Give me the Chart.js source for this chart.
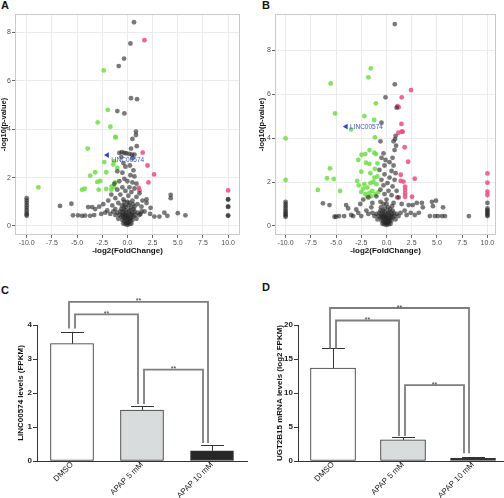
<!DOCTYPE html>
<html><head><meta charset="utf-8">
<script src="https://cdn.jsdelivr.net/npm/chart.js@4.4.1/dist/chart.umd.min.js"></script>
<style>
html,body{margin:0;padding:0;background:#fff;width:504px;height:498px;overflow:hidden;position:relative;font-family:"Liberation Sans",Arial,sans-serif;}
canvas{position:absolute;}
.lab{position:absolute;font-weight:bold;font-size:11px;line-height:11px;color:#111;font-family:"Liberation Sans",Arial,sans-serif;}
</style></head><body>
<div class="lab" style="left:1px;top:0px">A</div>
<div class="lab" style="left:262px;top:0px">B</div>
<div class="lab" style="left:1px;top:285px">C</div>
<div class="lab" style="left:262px;top:282px">D</div>
<canvas id="cC" width="252" height="248" style="left:0;top:250px"></canvas>
<canvas id="cD" width="262" height="248" style="left:252px;top:250px"></canvas>
<canvas id="cA" width="252" height="258" style="left:0;top:0"></canvas>
<canvas id="cB" width="252" height="258" style="left:252px;top:0"></canvas>
<script>
// ---------- DATA ----------
const volcanoXTicks = [-10, -7.5, -5, -2.5, 0, 2.5, 5, 7.5, 10];
const volcanoYTicks = [0, 2, 4, 6, 8];
const markerName = 'LINC00574';

const grayA = [
 [0.66,8.42],[0.3,7.54],[-0.33,6.92],[-0.86,6.61],[0.36,5.28],[0.96,5.24],[-1.0,4.75],[-0.3,4.65],
 [0.85,3.9],[0.85,3.76],[0.5,3.6],[0.93,3.3],[0.36,3.2],[-0.8,3.02],[-0.55,3.05],[-0.3,3.02],[-0.1,3.0],
 [0.2,2.98],[0.45,2.95],[0.7,2.95],[0.5,2.8],[-0.6,2.85],[-1.0,2.26],[-0.4,2.6],[-0.2,2.45],[0.25,2.5],
 [0.6,2.3],[-0.5,2.2],[0.3,2.1],[0.7,2.05],[-0.3,1.95],[0.0,1.85],[-0.8,1.85],[0.5,1.8],[0.9,1.75],
 [-1.3,1.75],[0.2,1.6],[-0.5,1.6],[-1.0,1.5],[0.7,1.55],[-0.2,1.45],[0.4,1.4],[1.2,1.35],[-0.7,1.3],
 [-1.6,1.3],[0.1,1.25],[0.9,1.2],[-1.2,1.15],[-0.4,1.1],[0.5,1.05],[1.5,1.05],[-1.9,1.05],[-0.9,0.95],
 [0.2,0.95],[1.0,0.9],[1.9,0.95],[-2.4,0.9],[-1.5,0.85],[-0.3,0.85],[0.7,0.8],[1.4,0.8],[2.3,0.75],
 [-2.8,0.8],[-3.5,0.78],[-3.9,0.78],[-3.2,0.7],[-2.0,0.64],[-1.2,0.7],[-2.6,0.5],[-2.2,0.55],[-1.7,0.5],
 [-6.69,0.83],[-5.56,0.92],[-5.4,0.44],[-4.9,0.44],[-4.5,0.42],[-4.2,0.43],[-3.7,0.42],[-3.3,0.45],
 [4.3,1.29],[4.3,1.15],[5.0,0.53],[5.76,0.44],[3.67,0.55],[3.97,0.42],[2.68,0.39],[3.18,0.39],[2.25,0.5],
 [1.9,1.1],[1.7,0.6],[1.3,0.5],
 [-10,1.15],[-10,1.05],[-10,0.95],[-10,0.85],[-10,0.75],[-10,0.65],[-10,0.55],[-10,0.48],[-10,0.42],
 [10,1.1],[10,1.1],[10,0.8],[10,0.8],[10,0.43],[10,0.43],
 [-1.0,0.55],[-0.8,0.45],[-0.6,0.4],[-0.4,0.35],[-0.2,0.3],[0,0.25],[0.2,0.3],[0.4,0.35],[0.6,0.4],[0.8,0.45],[1.0,0.55],
 [-0.7,0.6],[-0.5,0.55],[-0.3,0.5],[-0.1,0.45],[0.1,0.45],[0.3,0.5],[0.5,0.55],[0.7,0.6],
 [-0.5,0.25],[-0.3,0.2],[-0.1,0.15],[0.1,0.15],[0.3,0.2],[0.5,0.25],[-0.2,0.08],[0,0.05],[0.2,0.08],[0,0.12],
 [-0.6,0.7],[-0.2,0.65],[0.2,0.65],[0.6,0.7],[-1.2,0.45],[1.2,0.45],[-0.9,0.3],[0.9,0.3],[-0.4,0.1],[0.4,0.1],
 [-1.4,0.6],[1.4,0.6],[-0.05,0.35],[0.05,0.38],[-0.25,0.4],[0.25,0.28],[-0.45,0.45],[0.45,0.45],[-0.15,0.55],
 [0.15,0.6],[-0.35,0.7],[0.35,0.75],[-0.55,0.85],[0.55,0.9],[-0.15,0.8],[0.15,0.85],[0,1.0],[-0.3,1.0]
];
const greenA = [
 [-2.35,6.43],[-1.95,4.8],[-2.95,4.28],[-1.69,4.1],[-1.2,3.68],[-1.15,3.66],[-3.94,3.2],[-2.3,2.64],
 [-1.3,2.68],[-1.4,2.54],[-3.7,2.08],[-3.2,2.22],[-2.1,2.22],[-2.7,1.86],[-2.98,1.82],[-1.0,2.4],
 [-1.55,1.64],[-1.2,1.8],[-2.1,1.53],[-2.85,1.5],[-4.5,1.5],[-4.24,1.54],[-8.84,1.6],[-1.3,1.6],[-1.6,1.5]
];
const pinkA = [[1.69,7.68],[1.52,3.03],[2.0,2.5],[2.65,2.13],[2.09,1.8],[1.13,1.57],[1.2,1.47],[10,1.47]];
const markerA = [[-2.0,2.93]];

const grayB = [
 [0.82,9.18],[0.82,6.44],[-0.1,5.85],[1.0,5.38],[-0.5,4.7],[0.9,4.1],[0.85,3.95],[0.7,3.85],[-0.6,3.85],
 [0.95,3.65],[0.8,3.45],[-0.3,3.3],[0.6,3.1],[-0.5,3.1],[-0.1,3.0],[0.3,2.9],[0.7,2.75],[-0.2,2.75],
 [-0.7,2.55],[0.5,2.5],[0.9,2.4],[-0.2,2.35],[0.3,2.2],[-0.5,2.1],[0.8,2.1],[0.1,1.95],[-0.3,1.85],
 [0.6,1.8],[-0.6,1.65],[1.0,1.6],[0.2,1.6],[-0.2,1.45],[0.5,1.4],[-1.0,1.35],[1.2,1.3],[-1.8,1.3],
 [-2.3,1.2],[0.0,1.2],[-0.6,1.1],[0.7,1.05],[1.5,1.0],[-1.4,1.05],[-2.6,1.0],[2.2,0.95],[2.6,0.95],
 [3.0,1.05],[3.5,1.05],[4.5,1.1],[4.9,1.15],[3.6,0.85],[4.6,0.9],[5.6,0.85],[3.2,0.6],[4.3,0.45],
 [4.8,0.45],[5.1,0.45],[5.5,0.45],[5.8,0.45],[2.0,0.5],[2.8,0.5],[8.16,0.45],[1.8,0.7],[2.4,0.6],
 [-6.3,1.03],[-5.65,0.95],[-5.15,0.42],[-5.0,0.42],[-4.0,0.95],[-3.8,0.8],[-4.2,0.45],[-3.5,0.5],
 [-3.0,0.75],[-2.8,0.6],[-2.0,0.7],[-1.5,0.85],[-3.3,0.45],[-2.5,0.45],[-4.7,0.45],[-1.8,0.55],
 [-10,1.1],[-10,1.0],[-10,0.9],[-10,0.8],[-10,0.7],[-10,0.62],[-10,0.55],[-10,0.48],[-10,0.42],
 [10,1.05],[10,0.8],[10,0.72],[10,0.65],[10,0.58],[10,0.5],[10,0.45],
 [-1.0,0.55],[-0.8,0.45],[-0.6,0.4],[-0.4,0.35],[-0.2,0.3],[0,0.25],[0.2,0.3],[0.4,0.35],[0.6,0.4],[0.8,0.45],[1.0,0.55],
 [-0.7,0.6],[-0.5,0.55],[-0.3,0.5],[-0.1,0.45],[0.1,0.45],[0.3,0.5],[0.5,0.55],[0.7,0.6],
 [-0.5,0.25],[-0.3,0.2],[-0.1,0.15],[0.1,0.15],[0.3,0.2],[0.5,0.25],[-0.2,0.08],[0,0.05],[0.2,0.08],[0,0.12],
 [-0.6,0.7],[-0.2,0.65],[0.2,0.65],[0.6,0.7],[-1.2,0.45],[1.2,0.45],[-0.9,0.3],[0.9,0.3],[-0.4,0.1],[0.4,0.1],
 [-1.4,0.6],[1.4,0.6],[-0.05,0.35],[0.05,0.38],[-0.25,0.4],[0.25,0.28],[-0.45,0.45],[0.45,0.45],[-0.15,0.55],
 [0.15,0.6],[-0.35,0.7],[0.35,0.75],[-0.55,0.85],[0.55,0.9],[-0.15,0.8],[0.15,0.85],[0,1.0],[-0.3,1.0]
];
const greenB = [
 [-1.55,7.17],[-1.8,6.76],[-5.53,6.48],[-1.05,5.58],[-5.1,5.12],[-2.2,5.0],[-1.22,4.82],[-3.52,4.39],
 [-1.15,4.03],[-10,3.98],[-1.68,3.45],[-2.1,3.27],[-1.2,3.33],[-1.05,3.27],[-2.47,3.24],[-2.8,3.0],
 [-2.04,2.88],[-1.7,2.82],[-2.5,2.47],[-0.9,2.85],[-1.15,2.6],[-0.9,2.25],[-10,2.09],[-5.6,2.62],
 [-5.9,2.17],[-5.23,2.14],[-6.8,1.64],[-4.6,1.59],[-2.9,2.05],[-2.75,1.85],[-2.2,1.9],[-1.9,1.75],
 [-1.6,1.95],[-1.3,2.0],[-1.0,1.9],[-2.5,1.55],[-2.1,1.45],[-1.7,1.5],[-1.4,1.6],[-1.1,1.45],
 [-0.8,1.55],[-1.5,1.35],[-1.9,1.35],[-2.3,1.7],[-1.2,2.2],[-1.6,2.4]
];
const pinkB = [
 [2.43,6.18],[1.51,5.85],[1.09,5.45],[1.2,5.4],[1.48,4.64],[1.51,4.29],[1.6,4.29],[1.18,4.24],[1.8,3.58],
 [2.14,2.92],[1.41,2.33],[1.41,2.05],[1.68,2.02],[2.8,2.15],[1.84,1.79],[1.84,1.64],[1.84,1.48],
 [1.84,1.33],[2.53,1.33],[1.05,1.3],[10,2.39],[10,1.97],[10,1.56],[10,1.41]
];
const markerB = [[-4.01,4.52]];

const barCategories = ['DMSO', 'APAP 5 mM', 'APAP 10 mM'];
const lincValues = [3.45, 1.5, 0.3];
const lincErrors = [0.35, 0.11, 0.16];
const lincYTicks = [0, 1, 2, 3, 4];
const lincBrackets = [
 {from:0, to:2, level:4.68, fromBase:3.9, toBase:0.53, text:'**'},
 {from:0, to:1, level:4.31, fromBase:3.9, toBase:1.68, text:'**'},
 {from:1, to:2, level:2.69, fromBase:1.68, toBase:0.53, text:'**'}
];
const ugtValues = [13.65, 3.1, 0.4];
const ugtErrors = [2.9, 0.4, 0.2];
const ugtYTicks = [0, 5, 10, 15, 20];
const ugtBrackets = [
 {from:0, to:2, level:22.5, fromBase:16.54, toBase:1.13, text:'**'},
 {from:0, to:1, level:20.66, fromBase:16.54, toBase:3.68, text:'**'},
 {from:1, to:2, level:11.15, fromBase:3.68, toBase:1.13, text:'**'}
];

// ---------- STYLE ----------
const FONT = '"Liberation Sans", Arial, sans-serif';
const legOffsetsPx = [[-3,-4],[3,-4],[2,-9]];
const toXY = a => a.map(p => ({x:p[0], y:p[1]}));

const fixW = w => s => { s.width = w; };
const fixH = h => s => { s.height = h; };

const framePlugin = {
  id:'frame',
  afterDatasetsDraw(chart){
    const {ctx, chartArea:a} = chart;
    ctx.save(); ctx.strokeStyle = '#c9c9c9'; ctx.lineWidth = 1;
    ctx.strokeRect(Math.round(a.left)+0.5, Math.round(a.top)+0.5, Math.round(a.width)-1, Math.round(a.height)-1);
    ctx.restore();
  },
  afterDraw(chart){
    const o = chart.options.plugins.frame;
    if (!o || !o.marker) return;
    const {ctx, scales} = chart;
    const px = scales.x.getPixelForValue(o.marker[0]);
    const py = scales.y.getPixelForValue(o.marker[1]);
    ctx.save();
    ctx.fillStyle = '#3f55c8';
    ctx.font = '6.5px ' + FONT;
    ctx.textAlign = 'left'; ctx.textBaseline = 'middle';
    ctx.fillText(markerName, px + o.dx, py + o.dy);
    ctx.restore();
  }
};

function volcano(id, gray, green, pink, marker, xr, yr, pad, yW, yTitlePad, lblDy){
  new Chart(document.getElementById(id), {
    type:'scatter',
    data:{datasets:[
      {data:toXY(gray), backgroundColor:'rgba(38,38,38,0.62)', pointRadius:2.4, borderWidth:0},
      {data:toXY(green), backgroundColor:'rgba(110,222,70,0.85)', pointRadius:2.4, borderWidth:0},
      {data:toXY(pink), backgroundColor:'rgba(236,76,122,0.85)', pointRadius:2.4, borderWidth:0},
      {data:toXY(marker), backgroundColor:'#2f48c0', pointStyle:'triangle', rotation:-90, pointRadius:3.3, borderWidth:0}
    ]},
    options:{
      responsive:false, animation:false, events:[],
      layout:{padding:pad},
      plugins:{legend:{display:false}, tooltip:{enabled:false},
        frame:{marker:marker[0], dx:4, dy:lblDy}},
      scales:{
        x:{type:'linear', min:xr[0], max:xr[1],
          afterBuildTicks:s=>{s.ticks = volcanoXTicks.map(v=>({value:v}));},
          afterFit:fixH(23),
          border:{display:false},
          grid:{color:'#ebebeb', tickColor:'#666', tickLength:3, lineWidth:1},
          ticks:{font:{size:7, family:FONT}, color:'#4d4d4d', padding:1, maxRotation:0, autoSkip:false,
            callback:v=>v.toFixed(1)},
          title:{display:true, text:'-log2(FoldChange)', font:{size:8, weight:'bold', family:FONT, lineHeight:1}, color:'#111', padding:{top:0,bottom:3}}
        },
        y:{type:'linear', min:yr[0], max:yr[1],
          afterBuildTicks:s=>{s.ticks = volcanoYTicks.map(v=>({value:v}));},
          afterFit:fixW(yW),
          border:{display:false},
          grid:{color:'#ebebeb', tickColor:'#666', tickLength:3, lineWidth:1},
          ticks:{font:{size:7, family:FONT}, color:'#4d4d4d', padding:1, callback:v=>String(v)},
          title:{display:true, text:'-log10(p-value)', font:{size:7.5, weight:'bold', family:FONT, lineHeight:1}, color:'#111', padding:{top:yTitlePad,bottom:0}}
        }
      }
    },
    plugins:[framePlugin]
  });
}

volcano('cA', grayA, greenA, pinkA, markerA, [-11.16, 11.18], [-0.372, 8.76], {left:0, top:14, right:12, bottom:0}, 15, 0, 5);
volcano('cB', grayB, greenB, pinkB, markerB, [-11.05, 10.85], [-0.41, 9.64], {left:0, top:14, right:8, bottom:0}, 23, 6, 1);

const barPlugin = {
  id:'barExtras',
  afterDatasetsDraw(chart){
    const o = chart.options.plugins.barExtras;
    const {ctx, scales} = chart;
    const meta = chart.getDatasetMeta(0);
    const ys = scales.y;
    ctx.save();
    ctx.strokeStyle = '#333'; ctx.lineWidth = 1;
    o.values.forEach((v,i)=>{
      const x = Math.round(meta.data[i].x) + 0.5;
      const y0 = ys.getPixelForValue(v), y1 = ys.getPixelForValue(v + o.errors[i]);
      ctx.beginPath(); ctx.moveTo(x, y0); ctx.lineTo(x, y1);
      ctx.moveTo(x - 11.5, Math.round(y1)+0.5); ctx.lineTo(x + 11.5, Math.round(y1)+0.5);
      ctx.stroke();
    });
    o.brackets.forEach((b,k)=>{
      const off = legOffsetsPx[k];
      const xa = meta.data[b.from].x + off[0], xb = meta.data[b.to].x + off[1];
      const yl = ys.getPixelForValue(b.level);
      ctx.strokeStyle = '#7d7d7d'; ctx.lineWidth = 1.8;
      ctx.beginPath();
      ctx.moveTo(xa, ys.getPixelForValue(b.fromBase));
      ctx.lineTo(xa, yl); ctx.lineTo(xb, yl);
      ctx.lineTo(xb, ys.getPixelForValue(b.toBase));
      ctx.stroke();
      ctx.fillStyle = '#333'; ctx.font = '7px ' + FONT;
      ctx.textAlign = 'center'; ctx.textBaseline = 'alphabetic';
      ctx.fillText(b.text, (xa + xb)/2, yl + 1.5);
    });
    ctx.restore();
  }
};

function barChart(id, values, errors, brackets, yTicks, yMax, yTitle, yW, titlePad, padRight, thick){
  new Chart(document.getElementById(id), {
    type:'bar',
    data:{labels:barCategories, datasets:[{data:values,
      backgroundColor:['#ffffff','#d9dcdc','#262626'], borderColor:'#333', borderWidth:1,
      barThickness:thick, borderSkipped:false}]},
    options:{
      responsive:false, animation:false, events:[],
      layout:{padding:{left:0, top:75, right:padRight, bottom:0}},
      plugins:{legend:{display:false}, tooltip:{enabled:false},
        barExtras:{values:values, errors:errors, brackets:brackets}},
      scales:{
        x:{afterFit:fixH(37),
          border:{display:true, color:'#333', width:1},
          grid:{display:false},
          ticks:{font:{size:8, family:FONT}, color:'#222', minRotation:45, maxRotation:45, autoSkip:false, padding:-9}
        },
        y:{min:0, max:yMax,
          afterBuildTicks:s=>{s.ticks = yTicks.map(v=>({value:v}));},
          afterFit:fixW(yW),
          border:{display:true, color:'#333', width:1},
          grid:{display:true, drawOnChartArea:false, drawTicks:true, tickLength:4, tickColor:'#333'},
          ticks:{font:{size:8, weight:'bold', family:FONT}, color:'#222', padding:1},
          title:{display:true, text:yTitle, font:{size:8, weight:'bold', family:FONT, lineHeight:1.2}, color:'#111', padding:{top:titlePad, bottom:0}}
        }
      }
    },
    plugins:[barPlugin]
  });
}

barChart('cC', lincValues, lincErrors, lincBrackets, lincYTicks, 4, 'LINC00574 levels (FPKM)', 37, 16, 5, 43);
barChart('cD', ugtValues, ugtErrors, ugtBrackets, ugtYTicks, 20, 'UGT2B15 mRNA levels (log2 FPKM)', 46, 23, 6, 45);
</script>
</body></html>
